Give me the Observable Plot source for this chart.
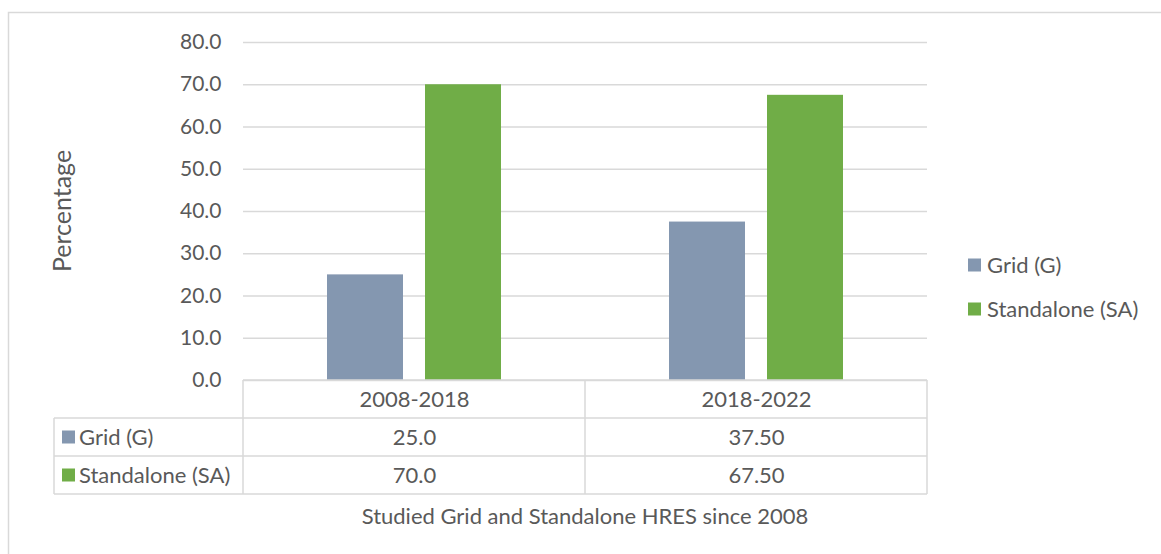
<!DOCTYPE html>
<html>
<head>
<meta charset="utf-8">
<script src="https://cdn.jsdelivr.net/npm/d3@7"></script>
<script src="https://cdn.jsdelivr.net/npm/@observablehq/plot@0.6"></script>
<style>
  html, body { margin: 0; padding: 0; background: #ffffff; overflow: hidden; }
  #chart svg { display: block; }
</style>
</head>
<body>
<div id="chart"></div>
<script>
// ---- data ----
const categories = ["2008-2018", "2018-2022"];
const series = ["Grid (G)", "Standalone (SA)"];
const gridValues = [25.0, 37.5];
const standaloneValues = [70.0, 67.5];
const gridLabels = ["25.0", "37.50"];
const standaloneLabels = ["70.0", "67.50"];
const yTicks = [0, 10, 20, 30, 40, 50, 60, 70, 80];
const seriesColors = ["#8497B0", "#70AD47"];
const yAxisTitle = "Percentage";
const xAxisTitle = "Studied Grid and Standalone HRES since 2008";

// ---- build tables ----
const bars = [];
categories.forEach((c, i) => {
  bars.push({category: c, series: series[0], value: gridValues[i], label: gridLabels[i]});
  bars.push({category: c, series: series[1], value: standaloneValues[i], label: standaloneLabels[i]});
});
const header = categories.map(c => ({category: c}));

const FONT = "Lato, 'Open Sans', sans-serif";
const TXT = "#595959";
const LINE = "#D9D9D9";
const rowH = 38;
const FS = 22;

const plot = Plot.plot({
  width: 1161,
  height: 554,
  marginLeft: 243,
  marginRight: 234,
  marginTop: 42,
  marginBottom: 174,
  style: {fontFamily: FONT, fontSize: FS + "px", color: TXT, background: "transparent", overflow: "visible"},
  fx: {domain: categories, padding: 0, axis: null},
  x: {domain: series, paddingInner: 0.2245, paddingOuter: 0.857, axis: null},
  y: {domain: [0, 80], label: null},
  color: {domain: series, range: seriesColors},
  marks: [
    Plot.gridY(yTicks, {stroke: LINE, strokeOpacity: 1, strokeWidth: 1.3}),
    Plot.axisY(yTicks, {tickSize: 0, tickPadding: 22, tickFormat: d => d.toFixed(1), label: null, fontSize: 21, fill: TXT}),
    Plot.barY(bars, {fx: "category", x: "series", y: "value", fill: "series"}),
    Plot.text(header, {fx: "category", text: "category", frameAnchor: "bottom", lineAnchor: "middle", dy: rowH * 0.5, fill: TXT, fontSize: FS}),
    Plot.text(bars.filter(d => d.series === series[0]), {fx: "category", text: "label", frameAnchor: "bottom", lineAnchor: "middle", dy: rowH * 1.5, fill: TXT, fontSize: FS}),
    Plot.text(bars.filter(d => d.series === series[1]), {fx: "category", text: "label", frameAnchor: "bottom", lineAnchor: "middle", dy: rowH * 2.5, fill: TXT, fontSize: FS})
  ]
});

document.getElementById("chart").appendChild(plot);

// ---- table lines, row labels, legend, titles (positions from the plot's scales) ----
const svg = d3.select(plot);
const fx = plot.scale("fx");
const y = plot.scale("y");
const color = plot.scale("color");
const yBottom = y.apply(0);
const yTop = y.apply(80);
const colEdges = [];
categories.forEach(c => colEdges.push(fx.apply(c)));
colEdges.push(fx.apply(categories[categories.length - 1]) + fx.bandwidth);
const x0 = colEdges[0], x1 = colEdges[colEdges.length - 1];
const tableLeft = 54;

const g = svg.append("g").attr("stroke", LINE).attr("stroke-width", 1.5).attr("fill", "none");
// outer chart border
g.append("path").attr("d", `M8.5,560V12.5H1170`);
// table horizontal lines
g.append("line").attr("x1", x0).attr("x2", x1).attr("y1", yBottom).attr("y2", yBottom);
for (let r = 1; r <= 3; r++) {
  const yy = yBottom + rowH * r;
  g.append("line").attr("x1", tableLeft).attr("x2", x1).attr("y1", yy).attr("y2", yy);
}
// vertical lines
colEdges.forEach(xx => {
  g.append("line").attr("x1", xx).attr("x2", xx).attr("y1", yBottom).attr("y2", yBottom + rowH * 3);
});
g.append("line").attr("x1", tableLeft).attr("x2", tableLeft).attr("y1", yBottom + rowH).attr("y2", yBottom + rowH * 3);

// row labels with swatches
const tl = svg.append("g").attr("font-family", FONT).attr("font-size", FS).attr("fill", TXT).attr("text-anchor", "start");
series.forEach((s, i) => {
  const cy = yBottom + rowH * (1.5 + i);
  tl.append("rect").attr("x", 62).attr("y", cy - 6.5).attr("width", 13).attr("height", 13).attr("fill", color.apply(s));
  tl.append("text").attr("x", 79).attr("y", cy).attr("dy", "0.35em").text(s);
});

// right legend
const lg = svg.append("g").attr("font-family", FONT).attr("font-size", FS).attr("fill", TXT).attr("text-anchor", "start");
series.forEach((s, i) => {
  const cy = 265 + i * 44;
  lg.append("rect").attr("x", 968).attr("y", cy - 6.5).attr("width", 13).attr("height", 13).attr("fill", color.apply(s));
  lg.append("text").attr("x", 987).attr("y", cy).attr("dy", "0.35em").text(s);
});

// axis titles
svg.append("text")
  .attr("transform", `translate(62,${(yTop + yBottom) / 2}) rotate(-90)`)
  .attr("text-anchor", "middle").attr("dy", "0.35em")
  .attr("font-family", FONT).attr("font-size", 25).attr("fill", TXT)
  .text(yAxisTitle);
svg.append("text")
  .attr("x", (x0 + x1) / 2).attr("y", yBottom + rowH * 3 + 22)
  .attr("text-anchor", "middle").attr("dy", "0.35em")
  .attr("font-family", FONT).attr("font-size", FS).attr("fill", TXT)
  .text(xAxisTitle);
</script>
</body>
</html>
